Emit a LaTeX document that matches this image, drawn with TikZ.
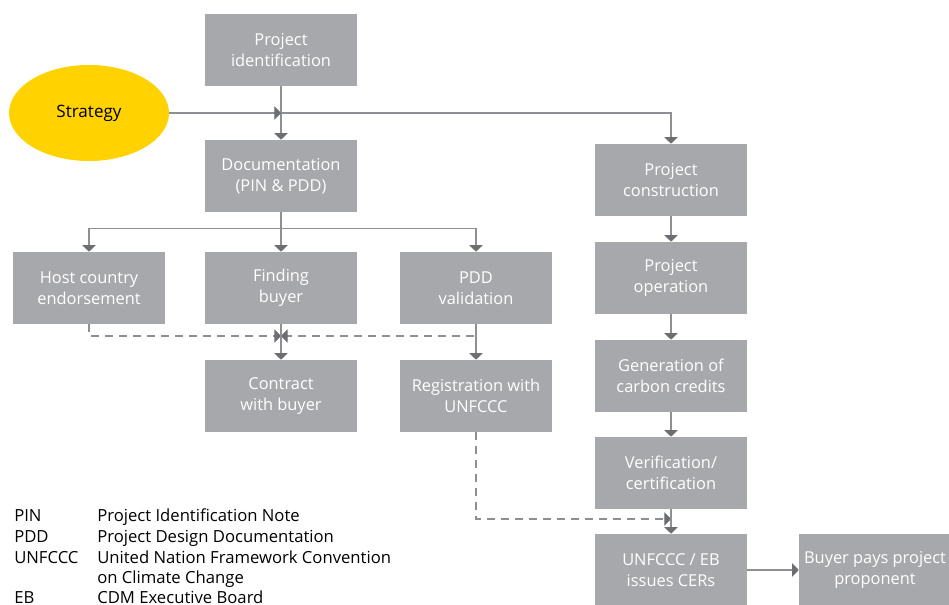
\documentclass[tikz,border=0pt]{standalone}
\usepackage{fontspec}
\setmainfont{Open Sans}
\usetikzlibrary{arrows.meta,shapes.geometric}
\definecolor{boxgray}{HTML}{A7A8AB}
\definecolor{linegray}{HTML}{8E8F92}
\definecolor{tipgray}{HTML}{6D6E71}
\definecolor{eyyellow}{HTML}{FFD200}

\begin{document}
\begin{tikzpicture}[x=0.75pt,y=-0.75pt,
  stage/.style={fill=boxgray,text=white,minimum width=114pt,minimum height=54pt,
    inner sep=0pt,align=center,font=\fontsize{12.3}{15.5}\selectfont},
  flow/.style={draw=linegray,line width=0.8pt,-{Triangle[length=5pt,width=10pt,color=tipgray]}},
  link/.style={flow,dash pattern=on 6pt off 4.5pt},
  abbr/.style={anchor=base west,inner sep=0pt,font=\fontsize{12.5}{15}\selectfont}]
  \useasboundingbox (0,0) rectangle (949,605);

  % Left branch: identification and documentation
  \node[ellipse,fill=eyyellow,minimum width=120pt,minimum height=72pt,
    font=\fontsize{12.8}{15}\selectfont] (strategy) at (89,113) {Strategy};
  \node[stage] (ident) at (281,50) {Project\\identification};
  \node[stage] (doc) at (281,176) {Documentation\\(PIN \& PDD)};
  \node[stage] (host) at (89,288) {Host country\\endorsement};
  \node[stage] (buyer) at (281,288) {Finding\\buyer};
  \node[stage] (pdd) at (476,288) {PDD\\validation};
  \node[stage] (contract) at (281,396) {Contract\\with buyer};
  \node[stage] (reg) at (476,396) {Registration with\\UNFCCC};

  % Right branch: construction to issuance
  \node[stage] (build) at (671,180) {Project\\construction};
  \node[stage] (operate) at (671,278) {Project\\operation};
  \node[stage] (credits) at (671,376) {Generation of\\carbon credits};
  \node[stage] (verif) at (671,473) {Verification/\\certification};
  \node[stage] (cer) at (671,570) {UNFCCC / EB\\issues CERs};
  \node[stage] (pays) at (875,570) {Buyer pays project\\proponent};

  \coordinate (stratjoin) at (ident.south |- strategy.east);
  \coordinate (meet) at (281,336);
  \coordinate (cermeet) at (671,519);

  \draw[flow] (ident.south) -- (doc.north);
  \draw[flow] (strategy.east) -- (stratjoin);
  \draw[flow] (stratjoin) -| (build.north);
  \foreach \t in {host,buyer,pdd}
    \draw[flow] (doc.south) -- ++(0,16) -| (\t.north);
  \draw[link] (host.south) |- (meet);
  \draw[link] (pdd.south) |- (meet);
  \draw[flow] (buyer.south) -- (contract.north);
  \draw[flow] (pdd.south) -- (reg.north);
  \draw[link] (reg.south) |- (cermeet);

  \draw[flow] (build.south) -- (operate.north);
  \draw[flow] (operate.south) -- (credits.north);
  \draw[flow] (credits.south) -- (verif.north);
  \draw[flow] (verif.south) -- (cer.north);
  \draw[flow] (cer.east) -- (pays.west);

  % Abbreviations
  \node[abbr] (kPIN) at (14,521) {PIN};
  \node[abbr] (vPIN) at (97,521) {Project Identification Note};
  \node[abbr] (kPDD) at (14,542) {PDD};
  \node[abbr] (vPDD) at (97,542) {Project Design Documentation};
  \node[abbr] (kUN) at (14,563) {UNFCCC};
  \node[abbr] (vUN) at (97,563) {United Nation Framework Convention};
  \node[abbr] (vUNb) at (97,583) {on Climate Change};
  \node[abbr] (kEB) at (14,603) {EB};
  \node[abbr] (vEB) at (97,603) {CDM Executive Board};
\end{tikzpicture}
\end{document}
